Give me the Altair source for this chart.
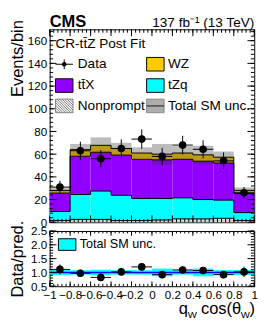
import altair as alt
import pandas as pd

# ---------------- data ----------------
bin_lo = [-1.0, -0.8, -0.6, -0.4, -0.2, 0.0, 0.2, 0.4, 0.6, 0.8]
bin_hi = [-0.8, -0.6, -0.4, -0.2, 0.0, 0.2, 0.4, 0.6, 0.8, 1.0]
bin_mid = [-0.9, -0.7, -0.5, -0.3, -0.1, 0.1, 0.3, 0.5, 0.7, 0.9]

nonprompt = [1.5, 2.5, 2.5, 1.5, 1.5, 2.0, 3.0, 3.0, 3.5, 1.5]
tzq = [8.0, 22.0, 25.0, 22.3, 19.5, 19.0, 18.5, 17.0, 16.0, 7.0]
ttx = [16.2, 33.8, 34.2, 35.5, 34.5, 34.0, 34.0, 33.8, 32.7, 16.8]
wz = [2.3, 5.7, 6.1, 5.7, 5.5, 5.0, 5.5, 5.6, 5.1, 2.8]
tot_unc = [2.5, 5.0, 7.0, 5.0, 5.0, 9.0, 6.0, 8.0, 5.0, 2.5]

data_val = [31.0, 63.0, 56.0, 65.0, 73.3, 58.0, 68.0, 64.3, 54.1, 26.0]
data_err = [5.6, 8.0, 7.5, 8.1, 8.6, 7.6, 8.2, 8.0, 7.4, 5.1]

ratio_val = [1.11, 0.97, 0.82, 1.02, 1.20, 0.92, 1.09, 1.07, 0.92, 1.02]
ratio_err = [0.18, 0.13, 0.13, 0.12, 0.14, 0.13, 0.13, 0.13, 0.13, 0.19]
ratio_unc = [0.09, 0.08, 0.10, 0.08, 0.08, 0.14, 0.08, 0.14, 0.08, 0.09]

proc_names = ["Nonprompt", "tZq", "ttX", "WZ"]
proc_values = [nonprompt, tzq, ttx, wz]
proc_colors = ["#d2d2d2", "#00ffff", "#9100ff", "#ffcc00"]

x_labels = [-1, -0.8, -0.6, -0.4, -0.2, 0, 0.2, 0.4, 0.6, 0.8, 1]
y_top_labels = [0, 20, 40, 60, 80, 100, 120, 140, 160]
y_bot_labels = [0.5, 1.0, 1.5, 2.0, 2.5]

FONT = "Liberation Sans"
W = 211
HT = 199
HB = 57

# ---------------- tables built from the arrays ----------------
rows, steps = [], []
cum = [0.0] * len(bin_lo)
for name, vals in zip(proc_names, proc_values):
    top = [c + v for c, v in zip(cum, vals)]
    for i in range(len(bin_lo)):
        rows.append(dict(proc=name, lo=bin_lo[i], hi=bin_hi[i], y0=cum[i], y1=top[i]))
    xs = bin_lo + [bin_hi[-1]]
    ys = top + [top[-1]]
    for xx, yy in zip(xs, ys):
        steps.append(dict(proc=name, x=xx, y=yy))
    cum = top
stack_df = pd.DataFrame(rows)
step_df = pd.DataFrame(steps)
band_df = pd.DataFrame(dict(lo=bin_lo, hi=bin_hi,
                            b0=[t - u for t, u in zip(cum, tot_unc)],
                            b1=[t + u for t, u in zip(cum, tot_unc)]))
data_df = pd.DataFrame(dict(lo=bin_lo, hi=bin_hi, mid=bin_mid, v=data_val,
                            e0=[v - e for v, e in zip(data_val, data_err)],
                            e1=[v + e for v, e in zip(data_val, data_err)]))
ratio_df = pd.DataFrame(dict(lo=bin_lo, hi=bin_hi, mid=bin_mid, v=ratio_val,
                             e0=[v - e for v, e in zip(ratio_val, ratio_err)],
                             e1=[v + e for v, e in zip(ratio_val, ratio_err)],
                             u0=[1 - u for u in ratio_unc],
                             u1=[1 + u for u in ratio_unc]))

dummy = pd.DataFrame({"a": [0]})

# ---------------- scales / axes ----------------
xscale = alt.Scale(domain=[-1, 1], nice=False, zero=False)
yscale_t = alt.Scale(domain=[0, 170], nice=False, zero=False)
yscale_b = alt.Scale(domain=[0.5, 2.5], nice=False, zero=False)

yaxis_t = alt.Axis(values=y_top_labels, ticks=False, domain=False, grid=False,
                   labelPadding=3, labelFontSize=12, title="Events/bin",
                   titleFontSize=17, titleFontWeight="normal", titlePadding=1,
                   titleAnchor="end", titleY=-10)
yaxis_b = alt.Axis(values=y_bot_labels, format=".1f", ticks=False, domain=False,
                   grid=False, labelPadding=3, labelFontSize=12, title="Data/pred.",
                   titleFontSize=17, titleFontWeight="normal", titlePadding=4)
xaxis_b = alt.Axis(values=x_labels, format="~g", ticks=False, domain=False,
                   grid=False, labelPadding=4, labelFontSize=12, labelOverlap=False,
                   labelFlush=False, title=None)


def XT(f):
    return alt.X(f, type="quantitative", scale=xscale, axis=None)


def XB(f):
    return alt.X(f, type="quantitative", scale=xscale, axis=xaxis_b)


def YT(f):
    return alt.Y(f, type="quantitative", scale=yscale_t, axis=yaxis_t)


def YB(f):
    return alt.Y(f, type="quantitative", scale=yscale_b, axis=yaxis_b)


def ticks(X, Y, ymajor, yminor, xmajor, xminor, h, lmaj, lmin, lmajx, lminx):
    out = []
    for vals, ln in ((ymajor, lmaj), (yminor, lmin)):
        d = pd.DataFrame({"v": vals})
        base = alt.Chart(d).mark_rule(color="black", strokeWidth=1)
        out.append(base.encode(y=Y("v"), x=alt.value(0), x2=alt.value(ln)))
        out.append(base.encode(y=Y("v"), x=alt.value(W - ln), x2=alt.value(W)))
    for vals, ln in ((xmajor, lmajx), (xminor, lminx)):
        d = pd.DataFrame({"v": vals})
        base = alt.Chart(d).mark_rule(color="black", strokeWidth=1)
        out.append(base.encode(x=X("v"), y=alt.value(0), y2=alt.value(ln)))
        out.append(base.encode(x=X("v"), y=alt.value(h - ln), y2=alt.value(h)))
    return out


def text(t, x, y, size, align="left", weight="normal", baseline="middle"):
    return alt.Chart(dummy).mark_text(text=t, font=FONT, fontSize=size, align=align,
                                      baseline=baseline, fontWeight=weight,
                                      color="black").encode(x=alt.value(x), y=alt.value(y))


def box(x, y, w, h, fill, stroke="black", opacity=1.0):
    return alt.Chart(dummy).mark_rect(fill=fill, stroke=stroke, strokeWidth=1,
                                      fillOpacity=opacity).encode(
        x=alt.value(x), x2=alt.value(x + w), y=alt.value(y), y2=alt.value(y + h))


def seg(x1, y1, x2, y2, color="black", width=1.0):
    return alt.Chart(dummy).mark_rule(color=color, strokeWidth=width).encode(
        x=alt.value(x1), y=alt.value(y1), x2=alt.value(x2), y2=alt.value(y2))


def hatch(x0, y0, w, h, s, color):
    out = []
    c = -h
    while c < w:
        xs = max(0.0, c)
        xe = min(w, h + c)
        if xe > xs:
            out.append(seg(x0 + xs, y0 + xs - c, x0 + xe, y0 + xe - c, color, 0.8))
        c += s
    return out


# ---------------- top panel ----------------
stack = alt.Chart(stack_df).mark_rect().encode(
    x=XT("lo"), x2="hi", y=YT("y0"), y2="y1",
    color=alt.Color("proc:N", scale=alt.Scale(domain=proc_names, range=proc_colors),
                    legend=None))
steplines = alt.Chart(step_df).mark_line(interpolate="step-after", color="black",
                                         strokeWidth=1).encode(
    x=XT("x"), y=YT("y"), detail="proc:N")
band = alt.Chart(band_df).mark_rect(fill="#333333", fillOpacity=0.33).encode(
    x=XT("lo"), x2="hi", y=YT("b0"), y2="b1")
ebar_v = alt.Chart(data_df).mark_rule(color="black", strokeWidth=1).encode(
    x=XT("mid"), y=YT("e0"), y2="e1")
ebar_h = alt.Chart(data_df).mark_rule(color="black", strokeWidth=1).encode(
    x=XT("lo"), x2="hi", y=YT("v"))
pts = alt.Chart(data_df).mark_circle(color="black", opacity=1, size=62).encode(
    x=XT("mid"), y=YT("v"))

tk_top = ticks(XT, YT, y_top_labels, [i * 4 for i in range(43)],
               x_labels, [-1 + i * 0.04 for i in range(51)], HT, 7, 3.5, 7, 3.5)

leg = []
leg.append(text("CR-tt\u0304Z Post Fit", 6, 15, 14))
# row 1: data and WZ
leg.append(seg(6, 36, 24, 36))
leg.append(seg(15, 31, 15, 41))
leg.append(alt.Chart(dummy).mark_circle(color="black", opacity=1, size=22).encode(
    x=alt.value(15), y=alt.value(36)))
leg.append(text("Data", 29, 36, 14))
leg.append(box(100, 29, 18, 14, "#ffcc00"))
leg.append(text("WZ", 122, 36, 14))
# row 2
leg.append(box(6, 51, 18, 14, "#9100ff"))
leg.append(text("tt\u0304X", 29, 58, 14))
leg.append(box(100, 51, 18, 14, "#00ffff"))
leg.append(text("tZq", 122, 58, 14))
# row 3
leg.append(box(6, 72, 18, 14, "white", stroke="#888888"))
leg += hatch(6, 72, 18, 14, 2.6, "#555555")
leg.append(text("Nonprompt", 29, 79, 14))
leg.append(box(100, 72, 18, 14, "#333333", stroke="#888888", opacity=0.4))
leg.append(seg(100, 79, 118, 79, "#333333", 1.2))
leg.append(text("Total SM unc.", 122, 79, 14))
# header texts
leg.append(text("CMS", 0, -2, 17, weight="bold", baseline="alphabetic"))
leg.append(text("137 fb\u207b\u00b9 (13 TeV)", W, -2, 14, align="right",
                baseline="alphabetic"))

top = alt.layer(stack, band, steplines, ebar_h, ebar_v, pts, *tk_top, *leg).properties(
    width=W, height=HT)

# ---------------- ratio panel ----------------
rband = alt.Chart(ratio_df).mark_rect(fill="#00ffff").encode(
    x=XB("lo"), x2="hi", y=YB("u0"), y2="u1")
one = alt.Chart(pd.DataFrame({"one": [1.0]})).mark_rule(
    color="#0000ff", strokeWidth=1.5).encode(y=YB("one"))
rv = alt.Chart(ratio_df).mark_rule(color="black", strokeWidth=1).encode(
    x=XB("mid"), y=YB("e0"), y2="e1")
rh = alt.Chart(ratio_df).mark_rule(color="black", strokeWidth=1).encode(
    x=XB("lo"), x2="hi", y=YB("v"))
rp = alt.Chart(ratio_df).mark_circle(color="black", opacity=1, size=62).encode(
    x=XB("mid"), y=YB("v"))
tk_bot = ticks(XB, YB, y_bot_labels, [0.5 + i * 0.1 for i in range(21)],
               x_labels, [-1 + i * 0.04 for i in range(51)], HB, 7, 3.5, 5, 2.5)
bleg = [box(9, 8, 18, 12, "#00ffff"), text("Total SM unc.", 31, 14, 13)]
# axis title q_W cos(theta_W)
xt0 = W - 78
bleg += [
    text("q", xt0, HB + 29, 17, baseline="alphabetic"),
    text("W", xt0 + 9.5, HB + 33, 10, baseline="alphabetic"),
    text("cos(\u03b8", xt0 + 23, HB + 29, 17, baseline="alphabetic"),
    text("W", xt0 + 64, HB + 33, 10, baseline="alphabetic"),
    text(")", xt0 + 73, HB + 29, 17, baseline="alphabetic"),
]
bottom = alt.layer(rband, one, rh, rv, rp, *tk_bot, *bleg).properties(width=W, height=HB)

chart = alt.vconcat(top, bottom, spacing=9, bounds="flush").properties(
    padding={"left": 0, "top": 0, "right": 4, "bottom": 0}
).configure_view(stroke="black", strokeWidth=1).configure_axis(
    labelFont=FONT, titleFont=FONT, labelColor="black", titleColor="black"
).configure_text(font=FONT)

chart.save("out.html", embed_options={"renderer": "svg", "actions": False})
